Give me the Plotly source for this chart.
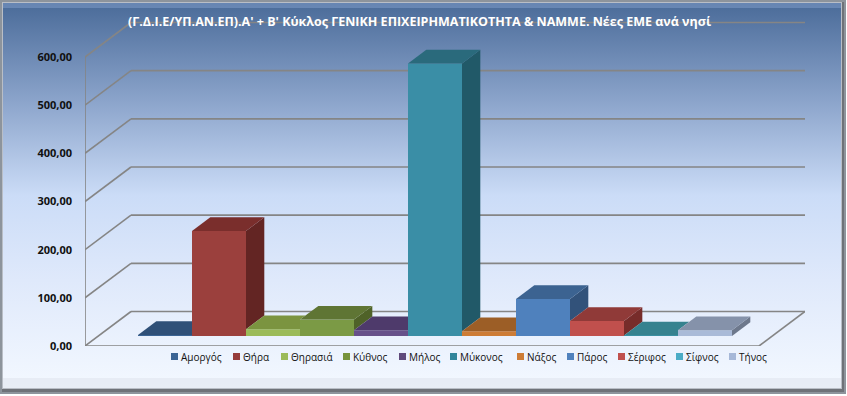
import urllib.parse
import plotly.graph_objects as go

# ---- data ----
islands = ["Αμοργός", "Θήρα", "Θηρασιά", "Κύθνος", "Μήλος", "Μύκονος",
           "Νάξος", "Πάρος", "Σέριφος", "Σίφνος", "Τήνος"]
values = [2, 218, 14, 34, 12, 566, 10, 77, 31, 1, 12]
y_ticks = [0, 100, 200, 300, 400, 500, 600]
title = "(Γ.Δ.Ι.Ε/ΥΠ.ΑΝ.ΕΠ).Α' + Β' Κύκλος ΓΕΝΙΚΗ ΕΠΙΧΕΙΡΗΜΑΤΙΚΟΤΗΤΑ & ΝΑΜΜΕ. Νέες ΕΜΕ ανά νησί"

# ---- styles ----
front_colors = ["#3b6494", "#9b403d", "#9bbb59", "#7b9a45", "#66508a", "#3a8ea6",
                "#cd7c36", "#4f81bd", "#c0504d", "#3f9cb2", "#a9bad8"]
top_colors = ["#2f5078", "#7a2e2c", "#7b9440", "#5f7534", "#4e3a6b", "#2a6a7c",
              "#9c5e26", "#3c6391", "#903a38", "#36828f", "#8592aa"]
side_colors = ["#264061", "#632523", "#5f7530", "#4f6228", "#3f3151", "#215968",
               "#7d4b1e", "#32527a", "#772c2a", "#2b6a78", "#6d788c"]
legend_colors = ["#3b6494", "#953c3b", "#9bbb59", "#77933c", "#604a7b", "#31859b",
                 "#cd7c36", "#4f81bd", "#c0504d", "#4bacc6", "#a6b8d8"]
legend_swatch_px = [171, 233, 281, 343, 399, 450, 517, 567, 618, 676, 729]

W, H = 847, 396
L, R, T, B = 85, 805, 21, 346      # plot area in pixels
PX_PER_CAT = 54
PX_PER_VAL = 289 / 600
x_lo = (L - 165) / PX_PER_CAT
x_hi = (R - 165) / PX_PER_CAT
y_hi = (B - T) / PX_PER_VAL

# oblique projection expressed in axis units
wall_dx = 46 / PX_PER_CAT
wall_dy = 34.5 / PX_PER_VAL
bar_dx = 18.3 / PX_PER_CAT
bar_dy = 13.7 / PX_PER_VAL
bar_base = 10 / PX_PER_VAL
floor_right = 11


def px_x(p):
    return (p - L) / (R - L)


def px_y(p):
    return (B - p) / (B - T)


fig = go.Figure()

# front faces
for i, (name, v) in enumerate(zip(islands, values)):
    fig.add_trace(go.Bar(x=[i], y=[v], base=[bar_base], width=1, name=name,
                         marker=dict(color=front_colors[i], line=dict(width=0)),
                         showlegend=False))

# top and side faces, trimmed against whatever the next bar hides
for i, (name, v) in enumerate(zip(islands, values)):
    x0, x1 = i - 0.5, i + 0.5
    h = v + bar_base
    nxt = values[i + 1] + bar_base if i + 1 < len(values) else bar_base
    if nxt <= h:
        top_x = [x0, x1, x1 + bar_dx, x0 + bar_dx]
        top_y = [h, h, h + bar_dy, h + bar_dy]
        side_x = [x1, x1 + bar_dx, x1 + bar_dx, x1]
        side_y = [nxt, nxt + bar_dy, h + bar_dy, h]
        fig.add_trace(go.Scatter(x=side_x, y=side_y, mode="lines", fill="toself",
                                 fillcolor=side_colors[i], line=dict(width=0),
                                 hoverinfo="skip", showlegend=False))
    elif nxt >= h + bar_dy:
        top_x = [x0, x1, x1, x0 + bar_dx]
        top_y = [h, h, h + bar_dy, h + bar_dy]
    else:
        xs = x1 + bar_dx * (h + bar_dy - nxt) / bar_dy
        top_x = [x0, x1, x1, xs, x0 + bar_dx]
        top_y = [h, h, nxt, h + bar_dy, h + bar_dy]
    fig.add_trace(go.Scatter(x=top_x, y=top_y, mode="lines", fill="toself",
                             fillcolor=top_colors[i], line=dict(width=0),
                             hoverinfo="skip", showlegend=False))

# walls and floor behind the bars
shapes = []
grid = dict(color="#858585", width=1.6)
for t in y_ticks:
    shapes.append(dict(type="line", layer="below", xref="x", yref="y", line=grid,
                       x0=x_lo, y0=t, x1=x_lo + wall_dx, y1=t + wall_dy))
    shapes.append(dict(type="line", layer="below", xref="x", yref="y", line=grid,
                       x0=x_lo + wall_dx, y0=t + wall_dy, x1=x_hi, y1=t + wall_dy))
shapes.append(dict(type="line", layer="below", xref="x", yref="y", line=grid,
                   x0=x_lo, y0=0, x1=floor_right, y1=0))
shapes.append(dict(type="line", layer="below", xref="x", yref="y", line=grid,
                   x0=floor_right, y0=0, x1=x_hi, y1=wall_dy))

# legend swatches and labels
annotations = [dict(text="<b>" + title + "</b>", xref="paper", yref="paper",
                    x=px_x(419), y=px_y(21), xanchor="center", yanchor="middle",
                    showarrow=False,
                    font=dict(family="Open Sans", size=12.5, color="#ffffff"))]
for name, col, sx in zip(islands, legend_colors, legend_swatch_px):
    shapes.append(dict(type="rect", xref="paper", yref="paper", layer="above",
                       x0=px_x(sx), x1=px_x(sx + 7), y0=px_y(360), y1=px_y(353),
                       fillcolor=col, line=dict(width=0)))
    annotations.append(dict(text=name, xref="paper", yref="paper",
                            x=px_x(sx + 8), y=px_y(356.5), xanchor="left",
                            yanchor="middle", showarrow=False,
                            font=dict(family="Open Sans", size=10, color="#111111")))

# chart area: gradient panel with a bevelled frame
svg = f"""<svg xmlns='http://www.w3.org/2000/svg' width='{W}' height='{H}' viewBox='0 0 {W} {H}'>
<defs><linearGradient id='g' x1='0' y1='0' x2='0' y2='1'>
<stop offset='0' stop-color='#4a6b99'/><stop offset='0.25' stop-color='#8aa3ca'/>
<stop offset='0.5' stop-color='#cbdcf7'/><stop offset='0.72' stop-color='#dfe9fb'/>
<stop offset='1' stop-color='#f3f8ff'/></linearGradient></defs>
<rect width='{W}' height='{H}' fill='#ffffff'/>
<rect x='0' y='0' width='{W-1}' height='{H-2}' fill='#8d949c'/>
<rect x='2' y='2' width='{W-5}' height='{H-6}' fill='#6e7278'/>
<rect x='2' y='2' width='{W-7}' height='{H-9}' fill='#b9bec6'/>
<rect x='3' y='3' width='{W-9}' height='{H-11}' fill='url(#g)'/>
<rect x='3' y='3' width='{W-9}' height='5' fill='#7f9cc8' fill-opacity='0.55'/>
<rect x='3' y='{H-18}' width='{W-9}' height='10' fill='#dfe4ec' fill-opacity='0.55'/>
</svg>"""
bg = "data:image/svg+xml," + urllib.parse.quote(svg)

fig.update_layout(
    width=W, height=H, autosize=False,
    margin=dict(l=L, r=W - R, t=T, b=H - B, pad=0),
    barmode="overlay", separators=",.", showlegend=False,
    paper_bgcolor="rgba(0,0,0,0)", plot_bgcolor="rgba(0,0,0,0)",
    shapes=shapes, annotations=annotations,
    images=[dict(source=bg, xref="paper", yref="paper", x=px_x(0), y=px_y(0),
                 sizex=W / (R - L), sizey=H / (B - T), sizing="stretch",
                 xanchor="left", yanchor="top", layer="below")],
    xaxis=dict(range=[x_lo, x_hi], visible=False, fixedrange=True),
    yaxis=dict(range=[0, y_hi], tickvals=y_ticks, tickformat=".2f", showgrid=False,
               zeroline=False, showline=False, ticks="",
               ticklabelstandoff=12,
               tickfont=dict(family="Open Sans", size=11, color="#111111", weight="bold")),
)
fig.add_shape(type="line", xref="x", yref="paper", layer="below",
              x0=x_lo, x1=x_lo, y0=0, y1=px_y(57), line=grid)

fig.write_html("out.html", config=dict(displayModeBar=False),
               post_script="document.body.style.margin='0';document.body.style.overflow='hidden';")
